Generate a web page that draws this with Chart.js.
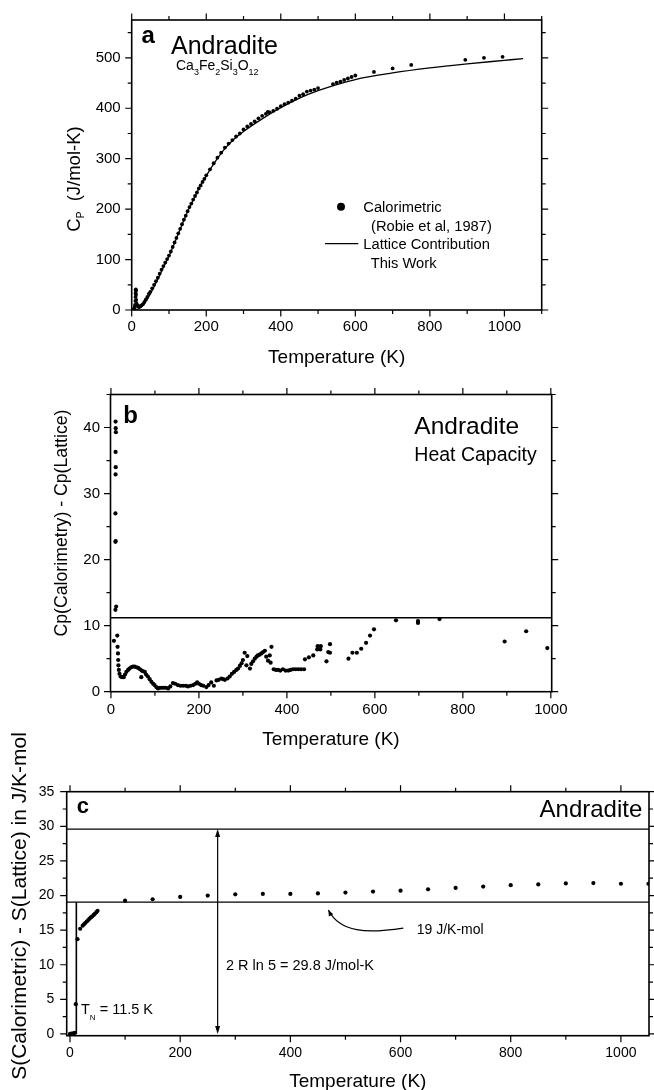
<!DOCTYPE html>
<html>
<head>
<meta charset="utf-8">
<script src="https://cdn.jsdelivr.net/npm/chart.js@4.4.1/dist/chart.umd.min.js"></script>
<style>
  html, body { margin: 0; padding: 0; background: #fff; }
  #page { position: relative; width: 654px; height: 1090px; overflow: hidden; }
  canvas { position: absolute; left: 0; }
  #chartA { top: 0; }
  #chartB { top: 375px; }
  #chartC { top: 720px; }
</style>
</head>
<body>
<div id="page">
  <canvas id="chartA" width="654" height="370"></canvas>
  <canvas id="chartB" width="654" height="400"></canvas>
  <canvas id="chartC" width="654" height="370"></canvas>
</div>
<script>
// ---- panel a : heat capacity ----
const aLatticeT  = [0, 10, 20, 30, 40, 50, 60, 70, 80, 90, 100, 110, 120, 130, 140, 150, 165, 180, 200, 225, 250, 275, 300, 350, 400, 450, 500, 600, 700, 800, 900, 1000, 1050];
const aLatticeCp = [0, 0.4, 3, 9, 19, 32, 46, 61, 77, 92, 107, 124, 142, 160, 178, 195, 218, 240, 266, 295, 320, 339, 354, 379, 401, 420, 435, 457, 470, 480, 488, 495, 498.5];

const aCalT  = [5, 7, 8, 9, 10, 10.3, 10.6, 10.8, 11, 11.3, 11.6, 12, 13, 14, 16, 18, 20, 23, 26, 30, 34, 38, 42, 46, 50,
                55, 60, 65, 70, 75, 80, 85, 90, 95, 100, 105, 110, 115, 120, 125, 130, 135, 140, 145, 150, 155, 160, 165, 170, 175,
                180, 185, 190, 195, 200, 210, 220, 230, 240, 250, 260, 270, 280, 290, 300, 310, 320, 330, 340, 350, 360, 365, 370,
                380, 390, 400, 410, 420, 430, 440, 450, 460, 470, 480, 490, 500, 540, 550, 560, 570, 580, 590, 600, 650, 700, 750, 895, 945, 995];
const aCalCp = [1, 3, 6, 10, 18, 26, 33, 38, 41, 38, 30, 20, 13, 10, 8, 7, 6.5, 7.5, 9, 11.5, 16, 21, 26, 32, 36,
                43, 50, 57, 64, 72, 80, 87, 94, 101, 108, 116, 125, 134, 143, 152, 161, 170, 179, 187, 196, 204, 211, 219, 226, 233,
                241, 247, 254, 260, 267, 279, 291, 302, 312, 322, 330, 337, 344, 350, 358, 364, 369, 374, 380, 385, 389, 393, 392,
                395, 399, 404, 408, 411, 415, 419, 425, 428, 433, 435, 437, 440, 448, 451, 453, 456, 459, 462, 465, 472, 479, 486, 496, 500, 502];

const aXTicks = [0, 200, 400, 600, 800, 1000];
const aYTicks = [0, 100, 200, 300, 400, 500];
const aLegend = ['Calorimetric', '(Robie et al, 1987)', 'Lattice Contribution', 'This Work'];

// ---- panel b : Cp(calorimetry) - Cp(lattice) ----
const bT = [10.6, 10.8, 11.2, 10.6, 10.9, 10.6, 10.2, 10.8, 10.2, 10.2, 11.9,
            6.8, 14.4, 15.1, 16, 16.5, 17, 18, 19.5, 22, 25, 29, 32, 35, 39, 42, 46, 50, 54, 58, 62, 66, 69, 70, 73, 77, 80, 84, 88,
            92, 96, 99, 103, 107, 111, 115, 120, 125, 130, 135, 141, 146, 152, 158, 164, 170, 175, 181, 187, 192, 196, 200, 205, 210,
            217, 222, 228, 234, 240, 245, 251, 255, 259, 265, 270, 275, 280, 285, 289, 293, 297, 300, 304, 308, 310, 316, 319, 323,
            327, 331, 334, 338, 342, 346, 350, 353, 357, 361, 363, 365, 370, 375, 380, 385, 391, 397, 403, 408, 414, 420, 426, 432,
            439, 441, 450, 460, 469, 470, 476, 477, 490, 494, 498, 498, 540, 549, 559, 569, 580, 589, 598, 648, 698, 698, 747, 895, 944, 992];
const bDiff = [40.9, 39.9, 39.3, 36.3, 34.0, 32.9, 27.0, 22.8, 22.7, 12.4, 12.9,
               7.7, 8.5, 6.8, 5.8, 4.8, 4.0, 3.3, 2.7, 2.3, 2.2, 2.2, 2.6, 3.0, 3.3, 3.5, 3.7, 3.8, 3.8, 3.7, 3.6, 3.4, 2.2, 3.2, 3.1, 3.0, 2.6, 2.3, 1.9,
               1.5, 1.2, 1.0, 0.7, 0.5, 0.6, 0.6, 0.6, 0.6, 0.5, 0.8, 1.3, 1.2, 1.0, 0.9, 0.9, 0.9, 0.8, 0.9, 1.0, 1.2, 1.4, 1.2, 1.0, 0.9,
               0.7, 1.0, 1.4, 0.9, 1.7, 1.8, 2.0, 1.9, 1.8, 2.0, 2.3, 2.7, 3.0, 3.3, 3.5, 3.9, 4.3, 4.8, 5.9, 4.0, 5.4, 3.5, 4.2, 4.6,
               5.0, 5.3, 5.5, 5.6, 5.8, 6.0, 6.2, 5.3, 4.7, 5.5, 4.4, 6.8, 3.4, 3.3, 3.3, 3.2, 3.4, 3.2, 3.2, 3.3, 3.4, 3.4, 3.4, 3.4,
               3.4, 4.9, 5.2, 5.5, 6.4, 6.9, 6.4, 6.9, 4.6, 6.0, 7.2, 5.9, 5.0, 5.9, 5.9, 6.5, 7.4, 8.5, 9.45, 10.8, 10.7, 10.4, 11.0, 7.6, 9.15, 6.6];
const bRefLevel = 11.2;
const bXTicks = [0, 200, 400, 600, 800, 1000];
const bYTicks = [0, 10, 20, 30, 40];

// ---- panel c : S(calorimetric) - S(lattice) ----
const cT = [0, 3, 6, 9, 10.5, 13.6, 18.5, 23, 25.5, 28, 30.5, 33, 35.5, 38, 40.5, 43, 45.5, 48, 50,
            100, 150, 200, 250, 300, 350, 400, 450, 500, 550, 600, 650, 700, 750, 800, 850, 900, 950, 1000, 1050];
const cS = [0, 0.05, 0.1, 0.15, 4.3, 13.7, 15.2, 15.65, 15.85, 16.05, 16.25, 16.45, 16.65, 16.85, 17.0, 17.2, 17.4, 17.6, 17.8,
            19.26, 19.46, 19.8, 19.99, 20.18, 20.23, 20.23, 20.3, 20.42, 20.57, 20.7, 20.9, 21.1, 21.3, 21.5, 21.6, 21.75, 21.8, 21.7, 21.7];
const cRln5 = 29.6;       // 2 R ln 5 level
const cMagLevel = 19.05;  // 19 J/K-mol level
const cTN = 11.5;
const cArrowT = 268;
const cCurve = [[605, 15.3], [540, 14.5], [490, 14.6], [469, 17.9]];
const cXTicks = [0, 200, 400, 600, 800, 1000];
const cYTicks = [0, 5, 10, 15, 20, 25, 30, 35];

const FONT = "'Liberation Sans', Arial, sans-serif";
Chart.defaults.font.family = FONT;
Chart.defaults.color = '#000';

function fnt(size, bold) { return (bold ? 'bold ' : '') + size + 'px ' + FONT; }
function pts(xs, ys) { return xs.map((v, i) => ({ x: v, y: ys[i] })); }

// text made of runs: [text, size, dy]
function runs(ctx, x, y, parts, align) {
  let w = 0;
  parts.forEach(p => { ctx.font = fnt(p[1]); w += ctx.measureText(p[0]).width; });
  let cx = align === 'center' ? x - w / 2 : x;
  ctx.textAlign = 'left';
  ctx.textBaseline = 'alphabetic';
  parts.forEach(p => {
    ctx.font = fnt(p[1]);
    ctx.fillText(p[0], cx, y + (p[2] || 0));
    cx += ctx.measureText(p[0]).width;
  });
}
function text(ctx, s, x, y, size, align, bold) {
  ctx.font = fnt(size, bold);
  ctx.textAlign = align || 'left';
  ctx.textBaseline = 'alphabetic';
  ctx.fillText(s, x, y);
}
function vtext(ctx, parts, cx, cy) {
  ctx.save();
  ctx.translate(cx, cy);
  ctx.rotate(-Math.PI / 2);
  runs(ctx, 0, 0, parts, 'center');
  ctx.restore();
}

// frame with outward ticks on all four sides
function frameTicks(xMajor, xMinor, yMajor, yMinor) {
  return {
    id: 'frameTicks',
    afterDatasetsDraw(chart) {
      const { ctx, chartArea: a, scales: { x, y } } = chart;
      const isMajor = (v, m) => Math.abs(v / m - Math.round(v / m)) < 1e-6;
      ctx.save();
      ctx.strokeStyle = '#000';
      ctx.lineWidth = 1.2;
      ctx.beginPath();
      for (let v = Math.ceil(x.min / xMinor) * xMinor; v <= x.max + 1e-9; v += xMinor) {
        const p = x.getPixelForValue(v), len = isMajor(v, xMajor) ? 6.5 : 4;
        ctx.moveTo(p, a.bottom); ctx.lineTo(p, a.bottom + len);
        ctx.moveTo(p, a.top); ctx.lineTo(p, a.top - len);
      }
      for (let v = Math.ceil(y.min / yMinor) * yMinor; v <= y.max + 1e-9; v += yMinor) {
        const p = y.getPixelForValue(v), len = isMajor(v, yMajor) ? 6.5 : 4;
        ctx.moveTo(a.left, p); ctx.lineTo(a.left - len, p);
        ctx.moveTo(a.right, p); ctx.lineTo(a.right + len, p);
      }
      ctx.stroke();
      ctx.lineWidth = 1.6;
      ctx.strokeRect(a.left, a.top, a.right - a.left, a.bottom - a.top);
      ctx.restore();
    }
  };
}

function scales(o) {
  return {
    x: {
      type: 'linear', min: o.xMin, max: o.xMax,
      afterBuildTicks: s => { s.ticks = o.xTicks.map(v => ({ value: v })); },
      afterFit: s => { s.height = o.xH; },
      grid: { display: false, drawTicks: false },
      border: { display: false },
      ticks: { padding: o.xPad, font: { size: o.tickSize }, color: '#000', maxRotation: 0, autoSkip: false, callback: v => String(v) }
    },
    y: {
      type: 'linear', min: o.yMin, max: o.yMax,
      afterBuildTicks: s => { s.ticks = o.yTicks.map(v => ({ value: v })); },
      afterFit: s => { s.width = o.yW; },
      grid: { display: false, drawTicks: false },
      border: { display: false },
      ticks: { padding: o.yPad, font: { size: o.tickSize }, color: '#000', autoSkip: false, callback: v => String(v) }
    }
  };
}

const common = {
  responsive: false,
  animation: false,
  events: [],
  plugins: { legend: { display: false }, tooltip: { enabled: false } }
};

// ---------- chart a ----------
new Chart(document.getElementById('chartA'), {
  type: 'scatter',
  data: {
    datasets: [
      { label: 'Lattice', data: pts(aLatticeT, aLatticeCp), showLine: true, pointRadius: 0,
        borderColor: '#000', borderWidth: 1.3, cubicInterpolationMode: 'monotone' },
      { label: 'Calorimetric', data: pts(aCalT, aCalCp), pointRadius: 1.9,
        pointBackgroundColor: '#000', pointBorderWidth: 0 }
    ]
  },
  options: Object.assign({}, common, {
    layout: { padding: { left: 0, top: 18, right: 112.3, bottom: 0 } },
    scales: scales({ xMin: 0, xMax: 1100, yMin: 0, yMax: 575, xTicks: aXTicks, yTicks: aYTicks,
                     xH: 60, yW: 131.7, xPad: 8, yPad: 11, tickSize: 15 })
  }),
  plugins: [frameTicks(200, 100, 100, 50), {
    id: 'notesA',
    afterDraw(chart) {
      const ctx = chart.ctx;
      ctx.save();
      ctx.fillStyle = '#000';
      text(ctx, 'a', 141.5, 42.5, 24, 'left', true);
      text(ctx, 'Andradite', 171, 54, 25);
      runs(ctx, 176, 70, [['Ca', 14], ['3', 9, 5], ['Fe', 14], ['2', 9, 5], ['Si', 14], ['3', 9, 5], ['O', 14], ['12', 9, 5]]);
      // legend
      ctx.beginPath();
      ctx.arc(341, 206.7, 4, 0, Math.PI * 2);
      ctx.fill();
      text(ctx, aLegend[0], 363.3, 212, 14.7);
      text(ctx, aLegend[1], 371, 230.5, 14.7);
      ctx.lineWidth = 1.3;
      ctx.beginPath();
      ctx.moveTo(325, 243.7); ctx.lineTo(358.3, 243.7);
      ctx.stroke();
      text(ctx, aLegend[2], 363.3, 249, 14.7);
      text(ctx, aLegend[3], 370.7, 267.5, 14.7);
      // axis titles
      runs(ctx, 336.7, 363, [['Temperature (K)', 19]], 'center');
      vtext(ctx, [['C', 18.5], ['P', 10, 4], ['  (J/mol-K)', 18.5]], 80, 179);
      ctx.restore();
    }
  }]
});

// ---------- chart b ----------
new Chart(document.getElementById('chartB'), {
  type: 'scatter',
  data: {
    datasets: [
      { label: 'ref', data: [{ x: -1, y: bRefLevel }, { x: 1002, y: bRefLevel }], showLine: true, pointRadius: 0,
        borderColor: '#000', borderWidth: 1.3 },
      { label: 'diff', data: pts(bT, bDiff), pointRadius: 2.1, pointBackgroundColor: '#000', pointBorderWidth: 0 }
    ]
  },
  options: Object.assign({}, common, {
    layout: { padding: { left: 0, top: 17.7, right: 102.3, bottom: 0 } },
    scales: scales({ xMin: -1, xMax: 1002, yMin: 0, yMax: 45, xTicks: bXTicks, yTicks: bYTicks,
                     xH: 83.3, yW: 110.5, xPad: 9, yPad: 10.5, tickSize: 15 })
  }),
  plugins: [frameTicks(200, 100, 10, 5), {
    id: 'notesB',
    afterDraw(chart) {
      const ctx = chart.ctx;
      ctx.save();
      ctx.fillStyle = '#000';
      text(ctx, 'b', 123.3, 47.7, 24, 'left', true);
      text(ctx, 'Andradite', 414.3, 59, 24.5);
      text(ctx, 'Heat Capacity', 414.3, 86, 19.5);
      runs(ctx, 331, 370, [['Temperature (K)', 19]], 'center');
      vtext(ctx, [['Cp(Calorimetry) - Cp(Lattice)', 17.7]], 67, 148);
      ctx.restore();
    }
  }]
});

// ---------- chart c ----------
function arrowHead(ctx, tx, ty, dx, dy, len, half) {
  const n = Math.hypot(dx, dy); dx /= n; dy /= n;
  ctx.beginPath();
  ctx.moveTo(tx, ty);
  ctx.lineTo(tx - dx * len - dy * half, ty - dy * len + dx * half);
  ctx.lineTo(tx - dx * len + dy * half, ty - dy * len - dx * half);
  ctx.closePath();
  ctx.fill();
}

new Chart(document.getElementById('chartC'), {
  type: 'scatter',
  data: {
    datasets: [
      { label: 'R ln 5', data: [{ x: -6, y: cRln5 }, { x: 1051, y: cRln5 }], showLine: true, pointRadius: 0,
        borderColor: '#000', borderWidth: 1.4 },
      { label: '19', data: [{ x: -6, y: cMagLevel }, { x: 1051, y: cMagLevel }], showLine: true, pointRadius: 0,
        borderColor: '#000', borderWidth: 1.4 },
      { label: 'TN', data: [{ x: cTN, y: 0 }, { x: cTN, y: cMagLevel }], showLine: true, pointRadius: 0,
        borderColor: '#000', borderWidth: 1.6 },
      { label: 'S', data: pts(cT, cS), pointRadius: 2.1, pointBackgroundColor: '#000', pointBorderWidth: 0 }
    ]
  },
  options: Object.assign({}, common, {
    layout: { padding: { left: 0, top: 71.7, right: 5, bottom: 0 } },
    scales: scales({ xMin: -6, xMax: 1051, yMin: -0.25, yMax: 35, xTicks: cXTicks, yTicks: cYTicks,
                     xH: 54.3, yW: 66.7, xPad: 9, yPad: 12.5, tickSize: 14 })
  }),
  plugins: [frameTicks(200, 100, 5, 2.5), {
    id: 'notesC',
    afterDraw(chart) {
      const { ctx, scales: { x, y } } = chart;
      ctx.save();
      ctx.fillStyle = '#000';
      ctx.strokeStyle = '#000';
      // double arrow 2 R ln 5
      const ax = x.getPixelForValue(cArrowT), ay0 = y.getPixelForValue(0), ay1 = y.getPixelForValue(cRln5);
      ctx.lineWidth = 1.2;
      ctx.beginPath();
      ctx.moveTo(ax, ay0 - 3); ctx.lineTo(ax, ay1 + 3);
      ctx.stroke();
      arrowHead(ctx, ax, ay1, 0, -1, 8, 2.5);
      arrowHead(ctx, ax, ay0, 0, 1, 8, 2.5);
      // curved arrow to the 19 J/K-mol line
      const c = cCurve.map(p => [x.getPixelForValue(p[0]), y.getPixelForValue(p[1])]);
      ctx.beginPath();
      ctx.moveTo(c[0][0], c[0][1]);
      ctx.bezierCurveTo(c[1][0], c[1][1], c[2][0], c[2][1], c[3][0], c[3][1]);
      ctx.stroke();
      arrowHead(ctx, c[3][0], c[3][1], c[3][0] - c[2][0], c[3][1] - c[2][1], 6, 2.5);
      // labels
      text(ctx, 'c', 76.7, 93.3, 22, 'left', true);
      text(ctx, 'Andradite', 642.3, 97.3, 24, 'right');
      text(ctx, '2 R ln 5 = 29.8 J/mol-K', 226, 250, 14.5);
      text(ctx, '19 J/K-mol', 416.7, 214, 14);
      runs(ctx, 81, 294.3, [['T', 14.5], ['N', 8, 5.5], [' = 11.5 K', 14.5]]);
      runs(ctx, 357.8, 367, [['Temperature (K)', 19]], 'center');
      vtext(ctx, [['S(Calorimetric) - S(Lattice) in J/K-mol', 21]], 26, 186);
      ctx.restore();
    }
  }]
});
</script>
</body>
</html>
